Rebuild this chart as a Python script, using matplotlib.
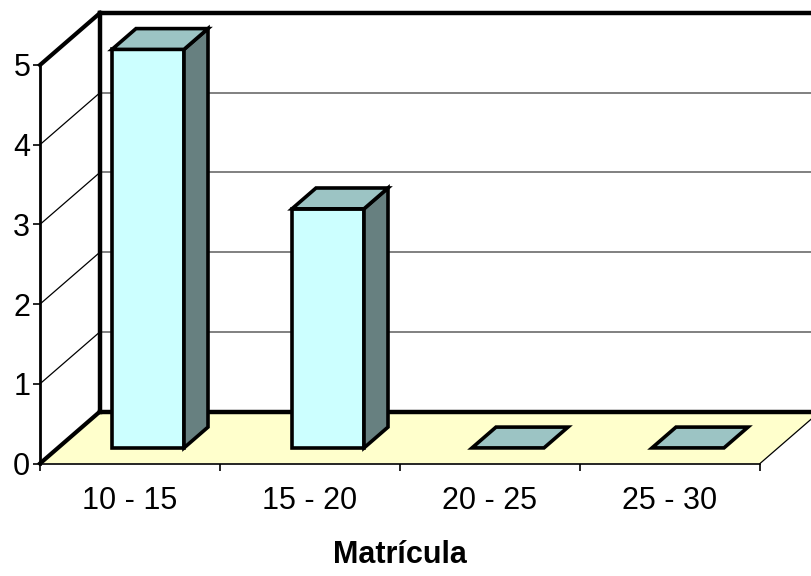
import matplotlib
matplotlib.use('Agg')
import matplotlib.pyplot as plt
from matplotlib.patches import Polygon

plt.rcParams['font.family'] = ['Liberation Sans', 'DejaVu Sans']

# 資料
categorias = ['10 - 15', '15 - 20', '20 - 25', '25 - 30']
valores = [5, 3, 0, 0]
y_ticks = [0, 1, 2, 3, 4, 5]
titulo_x = 'Matrícula'

# 3D 斜投影參數（資料單位）
DX, DY = 60 / 180, 52 / 79.7
BAR_W = 0.4
D0, D1 = 0.3, 0.7

C_FRONT = '#CCFFFF'
C_TOP = '#9CC4C4'
C_SIDE = '#678080'
C_FLOOR = '#FFFFCC'

fig = plt.figure(figsize=(8.12, 5.76), dpi=100)
ax = fig.add_axes([40 / 812, 112.5 / 576, 720 / 812, 398.5 / 576])
ax.set_xlim(0, len(categorias))
ax.set_ylim(0, 5)
n = len(categorias)


def line(p, q, lw, color='black', z=2):
    ax.plot([p[0], q[0]], [p[1], q[1]], color=color, lw=lw, clip_on=False,
            zorder=z, solid_capstyle='projecting')


# 地板
ax.add_patch(Polygon([(0, 0), (n, 0), (n + DX, DY), (DX, DY)], closed=True,
                     facecolor=C_FLOOR, edgecolor='none', clip_on=False, zorder=1))

# 背牆格線與側牆斜線
for k in y_ticks[1:-1]:
    line((DX, DY + k), (n + DX, DY + k), 1.4, '#808080')
    line((0, k), (DX, DY + k), 0.9)
top = y_ticks[-1]
line((DX, DY + top), (n + DX + 0.2, DY + top), 3.2)
line((0, top), (DX, DY + top), 3.0)
line((DX, DY), (DX, DY + top), 3.2)
line((DX, DY), (n + DX + 0.2, DY), 3.2)
line((0, 0), (DX, DY), 3.0)
line((n, 0), (n + DX, DY), 0.9)

# 長條
for i, v in enumerate(valores):
    x0 = i + 0.5 - BAR_W / 2 + D0 * DX
    y0 = D0 * DY
    ddx = (D1 - D0) * DX
    ddy = (D1 - D0) * DY
    x1 = x0 + BAR_W
    kw = dict(closed=True, edgecolor='black', lw=2.6, joinstyle='miter',
              clip_on=False, zorder=5)
    if v > 0:
        ax.add_patch(Polygon([(x0, y0), (x1, y0), (x1, y0 + v), (x0, y0 + v)],
                             facecolor=C_FRONT, **kw))
        ax.add_patch(Polygon([(x1, y0), (x1 + ddx, y0 + ddy),
                              (x1 + ddx, y0 + ddy + v), (x1, y0 + v)],
                             facecolor=C_SIDE, **kw))
    ax.add_patch(Polygon([(x0, y0 + v), (x1, y0 + v), (x1 + ddx, y0 + ddy + v),
                          (x0 + ddx, y0 + ddy + v)], facecolor=C_TOP, **kw))

# 座標軸
for s in ['top', 'right']:
    ax.spines[s].set_visible(False)
ax.spines['left'].set_linewidth(2.0)
ax.spines['bottom'].set_linewidth(1.2)
ax.spines['left'].set_zorder(3)
ax.spines['bottom'].set_zorder(3)
ax.set_facecolor('none')

ax.set_yticks(y_ticks)
ax.tick_params(axis='y', direction='out', length=5, width=1.2, labelsize=22, pad=2)
ax.set_xticks(range(n + 1))
ax.set_xticklabels([])
ax.set_xticks([i + 0.5 for i in range(n)], minor=True)
ax.set_xticklabels(categorias, minor=True)
ax.tick_params(axis='x', which='major', direction='out', length=5, width=1.2)
ax.tick_params(axis='x', which='minor', length=0, labelsize=22, pad=16)

fig.text(400 / 812, 1 - 555 / 576, titulo_x, ha='center', va='center',
         fontsize=22, fontweight='bold')

fig.savefig('out.png', dpi=100)
